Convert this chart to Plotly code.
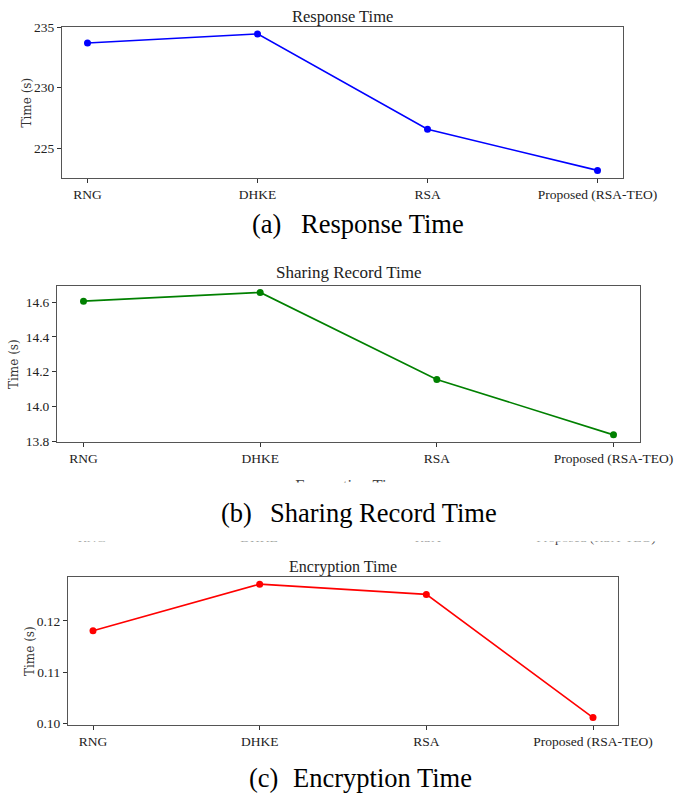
import plotly.graph_objects as go

W, H = 684, 793

categories = ["RNG", "DHKE", "RSA", "Proposed (RSA-TEO)"]
response_time = [233.7, 234.45, 226.55, 223.15]
sharing_time = [14.605, 14.655, 14.155, 13.836]
encryption_time = [0.1181, 0.1272, 0.1252, 0.1011]

titles = ["Response Time", "Sharing Record Time", "Encryption Time"]
captions = [("(a)", "Response Time"), ("(b)", "Sharing Record Time"), ("(c)", "Encryption Time")]
colors = ["#0000ff", "#008000", "#ff0000"]

def px_x(p):
    return p / W

def px_y(p):
    return 1 - p / H

# panel boxes in pixels: left, right, top, bottom
boxes = [(62, 623, 27, 178), (57, 640, 286, 442), (68, 618, 577, 725)]
yranges = [[222.52, 235.02], [13.795, 14.692], [0.09965, 0.1286]]
dticks = [5, 0.2, 0.01]
tfmts = ["d", ".1f", ".2f"]
series = [response_time, sharing_time, encryption_time]

fig = go.Figure()
xs = list(range(len(categories)))
tick_font = dict(family="Liberation Serif", size=13.5, color="#222")

for i in range(3):
    sfx = "" if i == 0 else str(i + 1)
    fig.add_trace(go.Scatter(
        x=xs, y=series[i], mode="lines+markers",
        line=dict(color=colors[i], width=1.6),
        marker=dict(color=colors[i], size=7),
        xaxis="x" + sfx, yaxis="y" + sfx, showlegend=False))
    l, r, t, b = boxes[i]
    fig.layout["xaxis" + sfx] = dict(
        domain=[px_x(l), px_x(r)], anchor="y" + sfx, automargin=False,
        range=[-0.15, 3.15], tickvals=xs, ticktext=categories,
        showgrid=False, zeroline=False, showline=True, mirror=True,
        linecolor="#555", linewidth=1, ticks="outside", ticklen=4,
        tickcolor="#333", tickfont=tick_font)
    fig.layout["yaxis" + sfx] = dict(
        domain=[px_y(b), px_y(t)], anchor="x" + sfx, automargin=False,
        range=yranges[i], dtick=dticks[i], tickformat=tfmts[i],
        showgrid=False, zeroline=False, showline=True, mirror=True,
        linecolor="#555", linewidth=1, ticks="outside", ticklen=4,
        tickcolor="#333", tickfont=tick_font)

annotations = []
title_y = [16, 273, 567]
title_sizes = [16.5, 17, 16]
ylabel_x = [27, 14, 30]
for i in range(3):
    l, r, t, b = boxes[i]
    annotations.append(dict(
        text=titles[i], x=px_x((l + r) / 2), y=px_y(title_y[i]),
        xref="paper", yref="paper", showarrow=False,
        xanchor="center", yanchor="middle",
        font=dict(family="Liberation Serif", size=title_sizes[i], color="#222")))
    annotations.append(dict(
        text="Time (s)", x=px_x(ylabel_x[i]), y=px_y((t + b) / 2),
        xref="paper", yref="paper", showarrow=False, textangle=-90,
        xanchor="center", yanchor="middle",
        font=dict(family="DejaVu Serif", size=12, color="#333")))

cap_pos = [(250, 299, 224), (219, 268, 513), (247, 291, 778)]
for (lab, txt), (x1, x2, y) in zip(captions, cap_pos):
    annotations.append(dict(
        text=lab, x=px_x(x1), y=px_y(y), xref="paper", yref="paper",
        showarrow=False, xanchor="left", yanchor="middle",
        font=dict(family="Liberation Serif", size=26.5, color="#000")))
    annotations.append(dict(
        text=txt, x=px_x(x2), y=px_y(y), xref="paper", yref="paper",
        showarrow=False, xanchor="left", yanchor="middle",
        font=dict(family="Liberation Serif", size=26.5, color="#000")))

# clipped fragments (cropping artifacts in the original figure)
frag_title_x = [351]
frag_title_txt = ["Encryption Time"]
fig.add_trace(go.Scatter(
    x=frag_title_x, y=[487], mode="text", text=frag_title_txt,
    textfont=dict(family="Liberation Serif", size=16.5, color="#444"),
    textposition="middle center", cliponaxis=True,
    xaxis="x4", yaxis="y4", showlegend=False, hoverinfo="skip"))
frag_tick_x = [92, 259, 428, 596]
fig.add_trace(go.Scatter(
    x=frag_tick_x, y=[539] * 4, mode="text", text=categories,
    textfont=dict(family="Liberation Serif", size=13.5, color="#444"),
    textposition="middle center", cliponaxis=True,
    xaxis="x5", yaxis="y5", showlegend=False, hoverinfo="skip"))
hidden = dict(visible=False, showgrid=False, zeroline=False, automargin=False)
fig.layout["xaxis4"] = dict(domain=[0, 1], range=[0, W], anchor="y4", **hidden)
fig.layout["yaxis4"] = dict(domain=[px_y(482.5), px_y(477.5)], range=[482.5, 477.5], anchor="x4", **hidden)
fig.layout["xaxis5"] = dict(domain=[0, 1], range=[0, W], anchor="y5", **hidden)
fig.layout["yaxis5"] = dict(domain=[px_y(546), px_y(541.5)], range=[546, 541.5], anchor="x5", **hidden)

fig.update_layout(
    width=W, height=H, autosize=False, margin=dict(l=0, r=0, t=0, b=0, pad=0),
    paper_bgcolor="white", plot_bgcolor="white",
    annotations=annotations, showlegend=False)

post = ("document.documentElement.style.margin='0';"
        "document.documentElement.style.overflow='hidden';"
        "document.body.style.margin='0';"
        "document.body.style.padding='0';"
        "document.body.style.overflow='hidden';")
fig.write_html("out.html", config={"responsive": False, "displayModeBar": False},
               post_script=post)
